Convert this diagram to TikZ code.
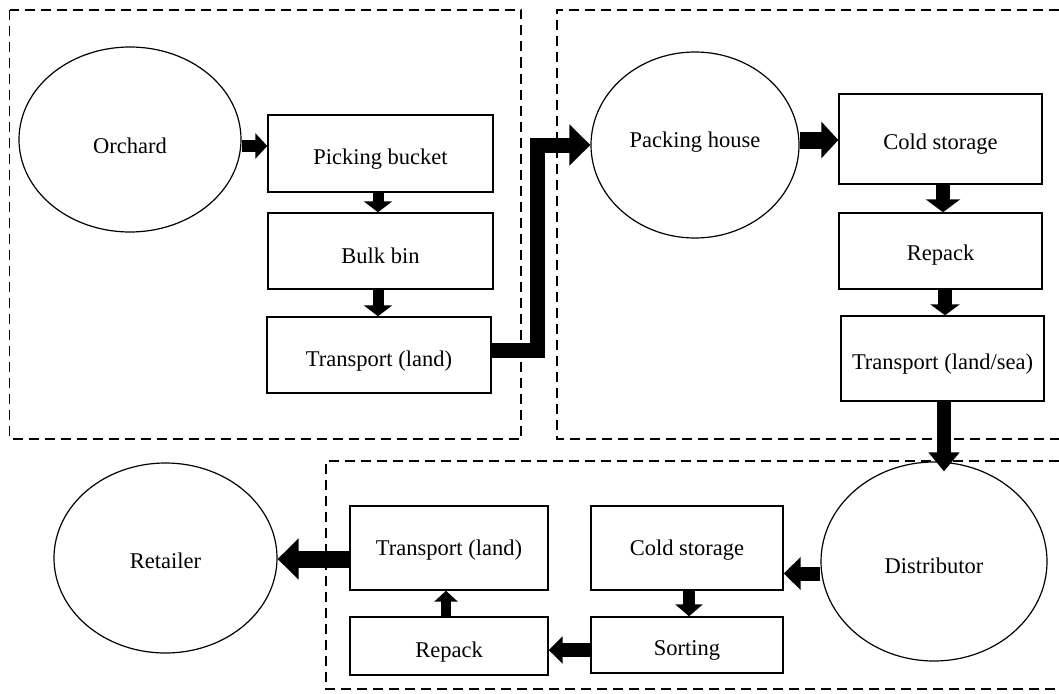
\documentclass[tikz,border=0pt]{standalone}
\usepackage{fontspec}
\setmainfont{Liberation Serif}
\usetikzlibrary{arrows.meta,shapes.geometric}
\tikzset{
  every node/.style={font=\fontsize{22.5}{27}\selectfont, inner sep=0pt},
  stage/.style={draw, line width=1.4pt, rectangle, minimum width=#1},
  ell/.style={draw, line width=1.2pt, ellipse},
  tdown/.style={text height=#1, text depth=5pt},
  zone/.style={draw, line width=1.5pt, dash pattern=on 10pt off 6pt},
  barrow/.style n args={3}{line width=#1, line cap=butt, line join=miter, -{Triangle[width=#2,length=#3]}}
}
\begin{document}
\begin{tikzpicture}[x=1pt,y=-1pt]
\useasboundingbox (0,0) rectangle (1059,693);
% zones
\draw[zone] (9.5,10) rectangle (521,439);
\draw[zone] (1075,10) -- (557,10) -- (557,439) -- (1075,439);
\draw[zone, line width=1.8pt] (1075,461) -- (326,461) -- (326,689) -- (1075,689);
% zone 1
\node[ell, tdown=32pt, minimum width=222pt, minimum height=185pt] (orch) at (130,139.5) {Orchard};
\node[stage=225pt, tdown=27pt, minimum height=77pt] (pb) at (380.5,153.5) {Picking bucket};
\node[stage=225pt, tdown=30pt, minimum height=76pt] (bb) at (380.5,251) {Bulk bin};
\node[stage=224pt, tdown=27pt, minimum height=76pt] (tl) at (379,355) {Transport (land)};
% zone 2
\node[ell, tdown=10pt, minimum width=208pt, minimum height=186pt] (ph) at (695,145) {Packing house};
\node[stage=203pt, tdown=26pt, minimum height=90pt] (cs) at (940.5,139) {Cold storage};
\node[stage=203pt, tdown=24pt, minimum height=76pt] (rp) at (940.5,251) {Repack};
\node[stage=203pt, tdown=27pt, minimum height=85pt] (tls) at (942.5,358.5) {Transport (land/sea)};
% zone 3
\node[ell, tdown=28pt, minimum width=226pt, minimum height=199pt] (dist) at (934,561.5) {Distributor};
\node[stage=192pt, tdown=20pt, minimum height=84pt] (cs2) at (687,548) {Cold storage};
\node[stage=192pt, tdown=26pt, minimum height=56pt] (sort) at (687,645) {Sorting};
\node[stage=198pt, tdown=20pt, minimum height=84pt] (tl2) at (449,548) {Transport (land)};
\node[stage=198pt, tdown=27pt, minimum height=58pt] (rp2) at (449,646) {Repack};
\node[ell, tdown=26pt, minimum width=223pt, minimum height=190pt] (ret) at (165.5,558) {Retailer};
% arrows
\draw[barrow={12pt}{25pt}{12pt}] ([yshift=-6.5pt]orch.east) -- ([yshift=-6.5pt]orch.east -| pb.west);
\draw[barrow={11pt}{28pt}{11pt}] (pb.south -| 378,0) -- (bb.north -| 378,0);
\draw[barrow={11pt}{28pt}{11pt}] (bb.south -| 378,0) -- (tl.north -| 378,0);
\draw[barrow={15pt}{40pt}{21pt}] ([yshift=5pt]tl.east) -- ++(46,0) |- (ph.west);
\draw[barrow={17pt}{36pt}{17pt}] ([yshift=5pt]ph.east) -- ([yshift=5pt]ph.east -| cs.west);
\draw[barrow={14pt}{34pt}{13pt}] (cs.south -| 943,0) -- (rp.north -| 943,0);
\draw[barrow={14pt}{29pt}{11pt}] (rp.south -| 945,0) -- (tls.north -| 945,0);
\draw[barrow={14pt}{30pt}{19pt}] (tls.south -| 944,0) -- ([yshift=-10pt]dist.north -| 944,0);
\draw[barrow={14pt}{32pt}{17pt}] ([yshift=-12pt]dist.west) -- ([yshift=-12pt]dist.west -| cs2.east);
\draw[barrow={12pt}{27pt}{12pt}] (cs2.south -| 689,0) -- (sort.north -| 689,0);
\draw[barrow={14pt}{27pt}{14pt}] (sort.west |- 650,650) -- (rp2.east |- 650,650);
\draw[barrow={10pt}{23pt}{11pt}] (rp2.north -| 446,0) -- (tl2.south -| 446,0);
\draw[barrow={17pt}{40pt}{21pt}] (tl2.west |- 559,559) -- (ret.east |- 559,559);
\end{tikzpicture}
\end{document}
